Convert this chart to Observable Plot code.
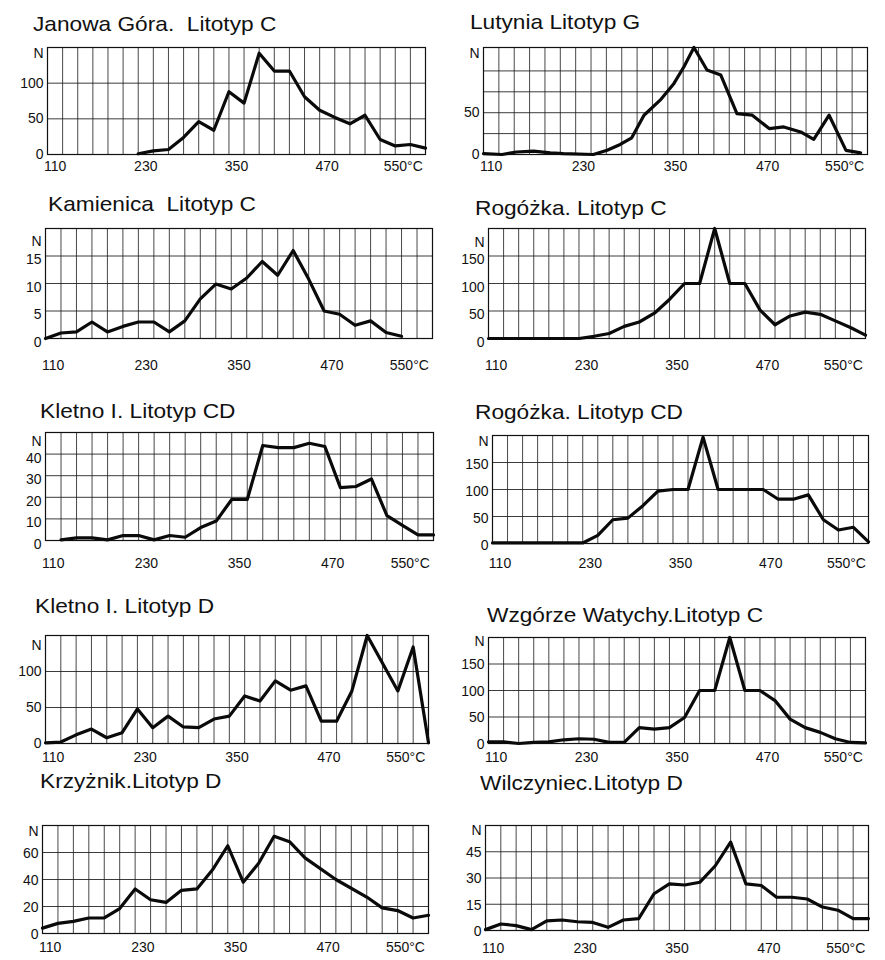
<!DOCTYPE html>
<html><head><meta charset="utf-8">
<script src="https://cdn.jsdelivr.net/npm/d3@7"></script>
<script src="https://cdn.jsdelivr.net/npm/@observablehq/plot@0.6"></script>
<style>
html,body{margin:0;padding:0;background:#fff;}
#root{position:relative;width:885px;height:960px;overflow:hidden;font-family:"Liberation Sans",Arial,sans-serif;}
.ttl{position:absolute;font-size:21px;line-height:21px;white-space:pre;transform:scaleX(1.08);transform-origin:0 0;color:#111;}
.pl{position:absolute;}
</style></head><body><div id="root"></div>
<script>
// ---- tick labels ----
const xTickVals = [110, 230, 350, 470, 550];
const xTickLabels = ["110", "230", "350", "470", "550°C"];

// ---- series (temperature °C, N) ----
const janowaT = [220,240,260,280,300,320,340,360,380,400,420,440,460,480,500,520,540,560,580,600];
const janowaN = [1,5,7,24,46,34,88,72,142,117,117,81,62,52,43,55,21,12,14,9];

const lutyniaT = [100,124,143,165,187,204,243,261,278,293,309,330,348,361,374,391,409,430,450,472,491,513,530,550,572,591];
const lutyniaN = [1,0,3,4,2,1,0,5,12,20,47,65,85,105,128,101,95,49,47,31,33,27,18,47,5,2];

const kamienicaT = [100,120,140,160,180,200,220,240,260,280,300,320,340,360,380,400,420,440,460,480,500,520,540,560];
const kamienicaN = [0,1,1.2,3,1.2,2.2,3,3,1.2,3.2,7.2,9.9,9,11,14,11.5,16,10.8,5,4.4,2.4,3.2,1.1,0.4];

const rogozkaCT = [100,220,240,260,280,300,320,340,360,380,400,420,440,460,480,500,520,540,560,580,600];
const rogozkaCN = [0,0,4,9,22,30,46,71,100,100,200,100,100,52,25,41,48,44,32,20,6];

const kletnoCDT = [120,140,160,180,200,220,240,260,280,300,320,340,360,380,400,420,440,460,480,500,520,540,560,580,600];
const kletnoCDN = [0.3,1.2,1.2,0.3,2.3,2.3,0.3,2.3,1.5,6,9,19,19,44,43,43,45,43.5,24.5,25,28.5,11.5,7,2.6,2.6];

const rogozkaCDT = [100,220,240,260,280,300,320,340,360,380,400,420,440,460,480,500,520,540,560,580,600];
const rogozkaCDN = [1,1,15,44,47,70,97,100,100,197,100,100,100,100,82,82,90,44,25,30,3];

const kletnoDT = [100,120,140,160,180,200,220,240,260,280,300,320,340,360,380,400,420,440,460,480,500,520,560,580,600];
const kletnoDN = [1,2,12,20,8,15,48,22,38,23,22,34,38,66,59,87,74,80,31,31,73,150,73,134,1];

const wzgorzeT = [100,120,140,160,180,200,220,240,260,280,300,320,340,360,380,400,420,440,460,480,500,520,540,560,580,600];
const wzgorzeN = [3,3,0,2,3,7,9,8,2,2,30,27,30,49,100,100,200,100,100,81,46,30,21,9,2,1];

const krzyznikT = [100,120,140,160,180,200,220,240,260,280,300,320,340,360,380,400,420,440,480,520,540,560,580,600];
const krzyznikN = [4,7.5,9,11.5,11.5,18.5,33,25,23,32,33,47,65,38,52,72,68,56,40,27,19,17,11.5,13.5];

const wilczyniecT = [100,120,140,160,180,200,220,240,260,280,300,320,340,360,380,400,420,440,460,480,500,520,540,560,580,600];
const wilczyniecN = [0.5,3.7,2.8,0.5,5.5,6,5,4.6,1.8,6,6.8,21,26.6,26,27.6,37,50.5,26.6,25.7,19,19,18,13.4,11.6,6.8,6.8];

// ---- panel layout ----
const panels = [
  {title:"Janowa Góra.  Litotyp C", tx:33, tb:31, frame:[47,47,425,154], t:janowaT, n:janowaN, yMax:150, yTicks:[0,50,100], yGrid:[50,100], nDy:6, yDy:0, xDy:12},
  {title:"Lutynia Litotyp G", tx:470, tb:29, frame:[483,47,867,154], t:lutyniaT, n:lutyniaN, yMax:128, yTicks:[0,50], yGrid:[25,50,75,100], nDy:6, yDy:0, xDy:12},
  {title:"Kamienica  Litotyp C", tx:48, tb:211, frame:[45,228,432,338], t:kamienicaT, n:kamienicaN, yMax:20, yTicks:[0,5,10,15], yGrid:[5,10,15], nDy:13, yDy:4, xDy:27},
  {title:"Rogóżka. Litotyp C", tx:475, tb:215, frame:[488,228,865,338], t:rogozkaCT, n:rogozkaCN, yMax:200, yTicks:[0,50,100,150], yGrid:[50,100,150], nDy:14, yDy:4, xDy:27},
  {title:"Kletno I. Litotyp CD", tx:40, tb:418, frame:[45,432,433,540], t:kletnoCDT, n:kletnoCDN, yMax:50, yTicks:[0,10,20,30,40], yGrid:[10,20,30,40], nDy:9, yDy:4, xDy:23},
  {title:"Rogóżka. Litotyp CD", tx:475, tb:419, frame:[492,435,868,543], t:rogozkaCDT, n:rogozkaCDN, yMax:200, yTicks:[0,50,100,150], yGrid:[50,100,150], nDy:6, yDy:2, xDy:20},
  {title:"Kletno I. Litotyp D", tx:35, tb:613, frame:[45,635,428,743], t:kletnoDT, n:kletnoDN, yMax:150, yTicks:[0,50,100], yGrid:[50,100], nDy:10, yDy:0, xDy:14},
  {title:"Wzgórze Watychy.Litotyp C", tx:487, tb:622, frame:[488,637,865,743], t:wzgorzeT, n:wzgorzeN, yMax:200, yTicks:[0,50,100,150], yGrid:[50,100,150], nDy:4, yDy:1, xDy:14},
  {title:"Krzyżnik.Litotyp D", tx:40, tb:788, frame:[42,825,428,933], t:krzyznikT, n:krzyznikN, yMax:80, yTicks:[0,20,40,60], yGrid:[20,40,60], nDy:6, yDy:1, xDy:14},
  {title:"Wilczyniec.Litotyp D", tx:480, tb:790, frame:[485,825,868,930], t:wilczyniecT, n:wilczyniecN, yMax:60, yTicks:[0,15,30,45], yGrid:[15,30,45], nDy:5, yDy:1, xDy:18}
];

const gridTemps = d3.range(120, 600, 20);
const root = document.getElementById("root");
const font = "Liberation Sans, Arial, sans-serif";

for (const p of panels) {
  const [x0, y0, x1, y1] = p.frame;
  const mL = 48, mR = 44, mT = 12, mB = 34;
  const data = p.t.map((t, i) => ({t, n: p.n[i]}));
  const chart = Plot.plot({
    width: x1 - x0 + mL + mR,
    height: y1 - y0 + mT + mB,
    marginLeft: mL, marginRight: mR, marginTop: mT, marginBottom: mB,
    style: {fontFamily: font, fontSize: "14px", background: "transparent", overflow: "visible", color: "#111"},
    x: {domain: [100, 600], axis: null},
    y: {domain: [0, p.yMax], axis: null},
    marks: [
      Plot.gridX(gridTemps, {stroke: "#1a1a1a", strokeOpacity: 0.8, strokeWidth: 1}),
      Plot.gridY(p.yGrid, {stroke: "#1a1a1a", strokeOpacity: 0.85, strokeWidth: 1}),
      Plot.frame({stroke: "#111", strokeWidth: 1.2}),
      Plot.line(data, {x: "t", y: "n", stroke: "#0a0a0a", strokeWidth: 3.2, strokeLinejoin: "round", strokeLinecap: "round"}),
      Plot.axisY(p.yTicks, {label: null, tickSize: 0, tickPadding: 4, dy: p.yDy, fontSize: 14, fill: "#111"}),
      Plot.text(["N"], {frameAnchor: "top-left", dx: -4, dy: p.nDy, textAnchor: "end", lineAnchor: "middle", fontSize: 14, fill: "#111"}),
      Plot.text(xTickVals.slice(0, 4), {x: d => d, text: (d, i) => xTickLabels[i], frameAnchor: "bottom", dy: p.xDy, lineAnchor: "middle", fontSize: 14, fill: "#111"}),
      Plot.text(xTickVals.slice(4), {x: d => d, text: (d, i) => xTickLabels[4 + i], frameAnchor: "bottom", dy: p.xDy, dx: -4, lineAnchor: "middle", textAnchor: "start", fontSize: 14, fill: "#111"})
    ]
  });
  chart.classList.add("pl");
  chart.style.left = (x0 - mL) + "px";
  chart.style.top = (y0 - mT) + "px";
  root.appendChild(chart);

  const t = document.createElement("div");
  t.className = "ttl";
  t.textContent = p.title;
  t.style.left = p.tx + "px";
  t.style.top = (p.tb - 18) + "px";
  root.appendChild(t);
}
</script></body></html>
